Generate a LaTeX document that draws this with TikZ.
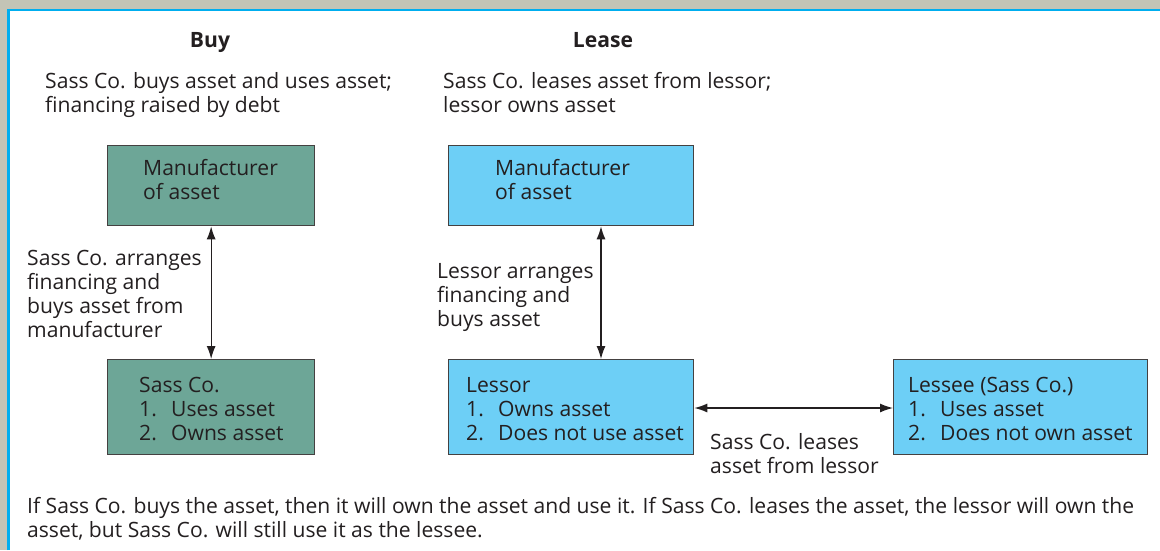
\documentclass[tikz,border=0pt]{standalone}
\usepackage{fontspec}
\setmainfont{Open Sans}
\usetikzlibrary{arrows.meta}
\definecolor{bgray}{HTML}{C3C4B6}
\definecolor{fblue}{HTML}{00AEEF}
\definecolor{tealc}{HTML}{6DA697}
\definecolor{skyc}{HTML}{6DCFF6}
\definecolor{ink}{HTML}{231F20}
\newcommand{\numit}[1]{\makebox[32pt][l]{#1}}
\begin{document}
\begin{tikzpicture}[x=1pt,y=-1pt,
  txt/.style={anchor=base west, inner sep=0pt, align=left, text=ink, font=\fontsize{21.1}{24}\selectfont},
  head/.style={anchor=base, inner sep=0pt, text=ink, font=\fontsize{21.1}{24}\selectfont\bfseries},
  box/.style={draw=ink!85, line width=1.3pt, anchor=north west, inner sep=0pt},
  arr/.style={{Latex[length=13pt,width=9pt]}-{Latex[length=13pt,width=9pt]}, line width=1.3pt, draw=ink}]
\useasboundingbox (0,0) rectangle (1160,550);
\fill[bgray] (0,0) rectangle (1160,550);
\fill[white] (9.5,11) rectangle (1160,550);
\draw[fblue, line width=2.5pt] (8.5,550) -- (8.5,10) -- (1160,10);
% boxes
\node[box, fill=tealc, minimum width=207pt, minimum height=80pt] (mfa) at (107,145) {};
\node[box, fill=tealc, minimum width=207pt, minimum height=95pt] (sca) at (107,359) {};
\node[box, fill=skyc, minimum width=245pt, minimum height=80pt] (mfl) at (448,145) {};
\node[box, fill=skyc, minimum width=245pt, minimum height=95pt] (lsr) at (448,359) {};
\node[box, fill=skyc, minimum width=254pt, minimum height=95pt] (lse) at (893,359) {};
% helper coordinates
\coordinate (lx) at (601,0);
\coordinate (hy) at (0,408);
% arrows
\draw[arr] (mfa.south) -- (sca.north);
\draw[arr] (mfl.south -| lx) -- (lsr.north -| lx);
\draw[arr] (lsr.east |- hy) -- (lse.west |- hy);
% headings
\node[head] (hbuy) at (210,47) {Buy};
\node[head] (hlease) at (603,47) {Lease};
% texts (anchored at the baseline of the last line)
\node[txt] (ibuy) at (45,112) {Sass Co. buys asset and uses asset;\\financing raised by debt};
\node[txt] (ilease) at (443,112) {Sass Co. leases asset from lessor;\\lessor owns asset};
\node[txt] (tmfa) at (143,199) {Manufacturer\\of asset};
\node[txt] (tmfl) at (495,199) {Manufacturer\\of asset};
\node[txt] (tarr) at (27,337) {Sass Co. arranges\\financing and\\buys asset from\\manufacturer};
\node[txt] (tlarr) at (437,326) {Lessor arranges\\financing and\\buys asset};
\node[txt] (tsca) at (139,440) {Sass Co.\\\numit{1.}Uses asset\\\numit{2.}Owns asset};
\node[txt] (tlsr) at (466,440) {Lessor\\\numit{1.}Owns asset\\\numit{2.}Does not use asset};
\node[txt] (tlse) at (908,440) {Lessee (Sass Co.)\\\numit{1.}Uses asset\\\numit{2.}Does not own asset};
\node[txt] (tlease) at (710,473) {Sass Co. leases\\asset from lessor};
\node[txt] (tcap) at (27,537) {If Sass Co. buys the asset, then it will own the asset and use it. If Sass Co. leases the asset, the lessor will own the\\asset, but Sass Co. will still use it as the lessee.};
\end{tikzpicture}
\end{document}
